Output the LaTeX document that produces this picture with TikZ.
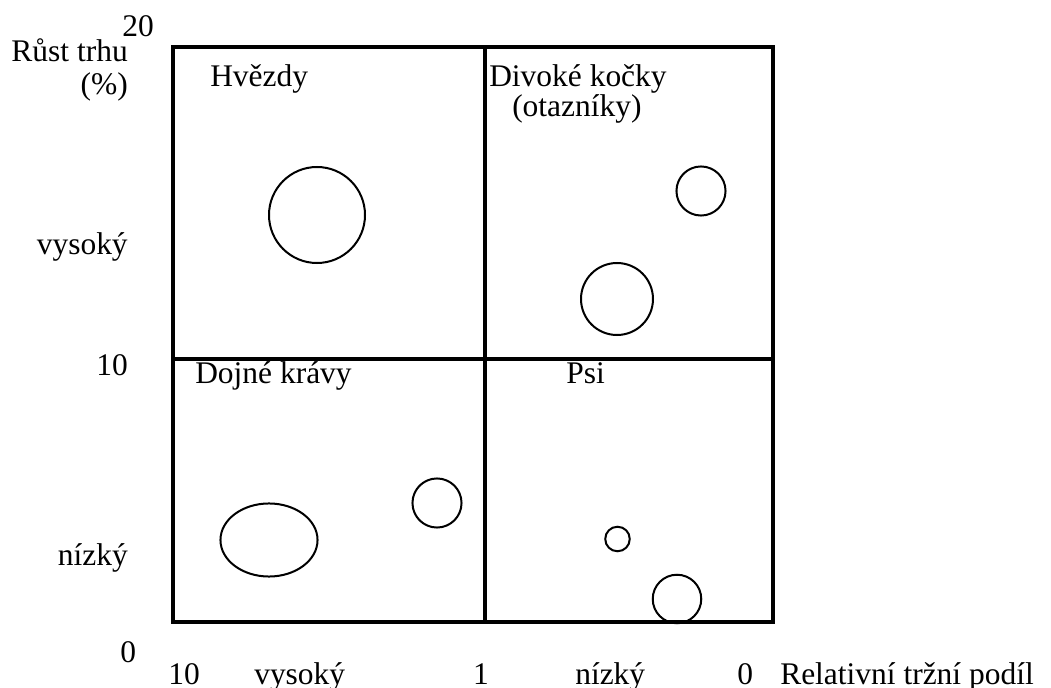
\documentclass[tikz,border=0pt]{standalone}
\usepackage{fontspec}
\setmainfont{Liberation Serif}
\begin{document}
\begin{tikzpicture}[x=0.75pt,y=-0.75pt,
  lbl/.style={inner sep=0pt, font=\fontsize{23.6}{28}\selectfont},
  frame/.style={line width=2.6pt},
  bubble/.style={line width=1.5pt}]
\useasboundingbox (0,0) rectangle (1051,688);
% frame and quadrants
\draw[frame] (173,47) rectangle (773,622);
\draw[frame] (485,47) -- (485,622);
\draw[frame] (173,359) -- (773,359);
% bubbles
\draw[bubble] (317,215) circle[radius=36pt];
\draw[bubble] (701,191) circle[radius=18.4pt];
\draw[bubble] (617,299) circle[radius=27pt];
\draw[bubble] (269,540) ellipse[x radius=36.4pt, y radius=27.4pt];
\draw[bubble] (437,503) circle[radius=18.4pt];
\draw[bubble] (617.5,539) circle[radius=9.2pt];
\draw[bubble] (677,599) circle[radius=18.2pt];
% quadrant labels
\node[lbl, anchor=base west] (hv) at (210,87) {Hvězdy};
\node[lbl, anchor=base west] (dk) at (489,87) {Divoké kočky};
\node[lbl, anchor=base west] (ot) at (512,117) {(otazníky)};
\node[lbl, anchor=base west] (dj) at (195,383) {Dojné krávy};
\node[lbl, anchor=base west] (ps) at (566,383) {Psi};
% vertical axis labels
\node[lbl, anchor=base west] (y20) at (122,37) {20};
\node[lbl, anchor=base east] (rt) at (128,62) {Růst trhu};
\node[lbl, anchor=base east] (pc) at (128,95) {(\%)};
\node[lbl, anchor=base east] (yv) at (128,255) {vysoký};
\node[lbl, anchor=base east] (y10) at (128,375) {10};
\node[lbl, anchor=base east] (yn) at (128,565) {nízký};
\node[lbl, anchor=base west] (y0) at (120,662) {0};
% horizontal axis labels
\node[lbl, anchor=base west] (x10) at (168,684) {10};
\node[lbl, anchor=base west] (xv) at (254,684) {vysoký};
\node[lbl, anchor=base] (x1) at (481,684) {1};
\node[lbl, anchor=base west] (xn) at (575,684) {nízký};
\node[lbl, anchor=base west] (x0) at (737,684) {0};
\node[lbl, anchor=base west] (rel) at (780,684) {Relativní tržní podíl};
\end{tikzpicture}
\end{document}
